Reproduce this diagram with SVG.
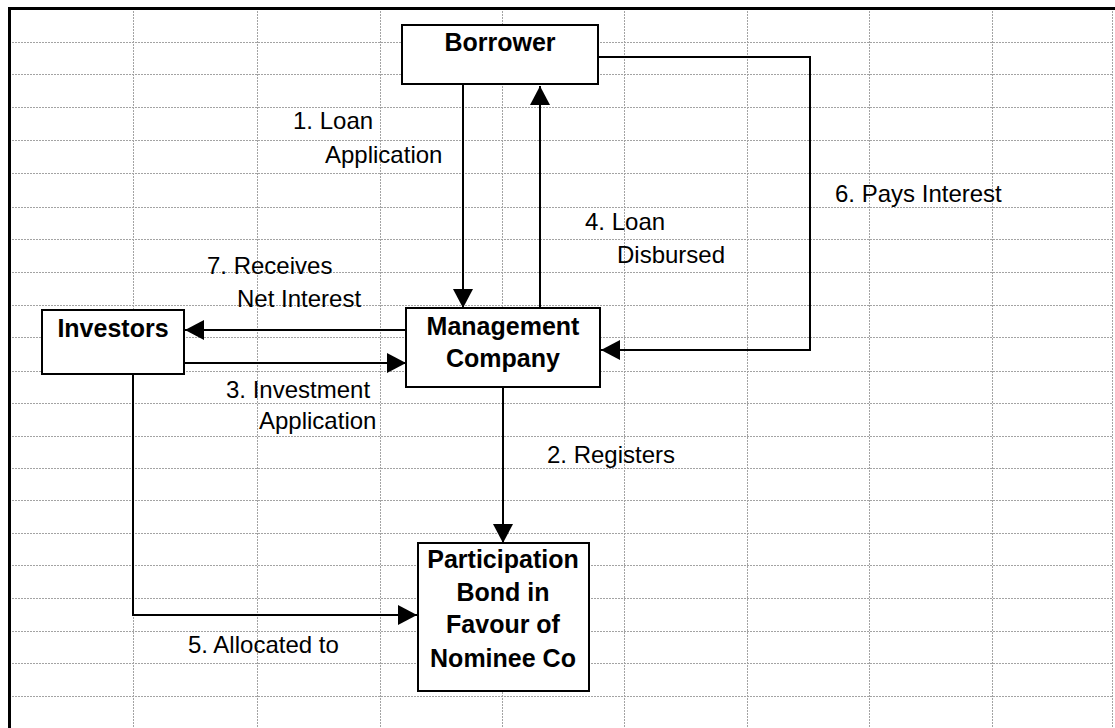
<svg xmlns="http://www.w3.org/2000/svg" width="1115" height="728" viewBox="0 0 1115 728">
  <style>
    .grid line { stroke: #a3a3a3; stroke-width: 1; stroke-dasharray: 2 1; }
    .frame { stroke: #000; stroke-width: 3; fill: none; }
    .box { fill: #fff; stroke: #000; stroke-width: 2; }
    .title { font-family: "Liberation Sans", Arial, sans-serif; font-weight: bold; font-size: 25px; fill: #000; text-anchor: middle; }
    .label { font-family: "Liberation Sans", Arial, sans-serif; font-size: 24px; fill: #000; }
    .conn { fill: none; stroke: #000; stroke-width: 2; }
  </style>
  <defs>
    <marker id="arrow" viewBox="0 0 19 20" refX="19" refY="10" markerWidth="19" markerHeight="20" markerUnits="userSpaceOnUse" orient="auto">
      <path d="M0,0 L19,10 L0,20 z" fill="#000"/>
    </marker>
  </defs>

  <rect width="1115" height="728" fill="#fff"/>

  <!-- spreadsheet grid -->
  <g class="grid">
    <line x1="133.5" y1="8" x2="133.5" y2="728"/>
    <line x1="257.5" y1="8" x2="257.5" y2="728"/>
    <line x1="380.5" y1="8" x2="380.5" y2="728"/>
    <line x1="502.5" y1="8" x2="502.5" y2="728"/>
    <line x1="624.5" y1="8" x2="624.5" y2="728"/>
    <line x1="747.5" y1="8" x2="747.5" y2="728"/>
    <line x1="869.5" y1="8" x2="869.5" y2="728"/>
    <line x1="992.5" y1="8" x2="992.5" y2="728"/>
    <line x1="1112.5" y1="8" x2="1112.5" y2="728"/>
    <line x1="9" y1="42.5" x2="1113" y2="42.5"/>
    <line x1="9" y1="74.5" x2="1113" y2="74.5"/>
    <line x1="9" y1="107.5" x2="1113" y2="107.5"/>
    <line x1="9" y1="140.5" x2="1113" y2="140.5"/>
    <line x1="9" y1="173.5" x2="1113" y2="173.5"/>
    <line x1="9" y1="207.5" x2="1113" y2="207.5"/>
    <line x1="9" y1="239.5" x2="1113" y2="239.5"/>
    <line x1="9" y1="272.5" x2="1113" y2="272.5"/>
    <line x1="9" y1="305.5" x2="1113" y2="305.5"/>
    <line x1="9" y1="337.5" x2="1113" y2="337.5"/>
    <line x1="9" y1="371.5" x2="1113" y2="371.5"/>
    <line x1="9" y1="403.5" x2="1113" y2="403.5"/>
    <line x1="9" y1="436.5" x2="1113" y2="436.5"/>
    <line x1="9" y1="468.5" x2="1113" y2="468.5"/>
    <line x1="9" y1="500.5" x2="1113" y2="500.5"/>
    <line x1="9" y1="533.5" x2="1113" y2="533.5"/>
    <line x1="9" y1="565.5" x2="1113" y2="565.5"/>
    <line x1="9" y1="598.5" x2="1113" y2="598.5"/>
    <line x1="9" y1="631.5" x2="1113" y2="631.5"/>
    <line x1="9" y1="663.5" x2="1113" y2="663.5"/>
    <line x1="9" y1="696.5" x2="1113" y2="696.5"/>
  </g>

  <!-- sheet frame (top and left edges) -->
  <path class="frame" d="M9.5,728 V8.5 H1115"/>

  <!-- labels -->
  <g id="labels">
    <text class="label" x="293" y="129">1. Loan</text>
    <text class="label" x="325" y="163">Application</text>
    <text class="label" x="585" y="230">4. Loan</text>
    <text class="label" x="617" y="263">Disbursed</text>
    <text class="label" x="835" y="202">6. Pays Interest</text>
    <text class="label" x="207" y="274">7. Receives</text>
    <text class="label" x="237" y="307">Net Interest</text>
    <text class="label" x="226" y="398">3. Investment</text>
    <text class="label" x="259" y="429">Application</text>
    <text class="label" x="547" y="463">2. Registers</text>
    <text class="label" x="188" y="653">5. Allocated to</text>
  </g>

  <!-- connectors -->
  <g id="connectors">
    <path class="conn" d="M463,84 V308" marker-end="url(#arrow)"/>
    <path class="conn" d="M540,308 V86" marker-end="url(#arrow)"/>
    <path class="conn" d="M598,57 H810 V350 H601" marker-end="url(#arrow)"/>
    <path class="conn" d="M406,330 H185" marker-end="url(#arrow)"/>
    <path class="conn" d="M184,363 H406" marker-end="url(#arrow)"/>
    <path class="conn" d="M503,387 V543" marker-end="url(#arrow)"/>
    <path class="conn" d="M133,374 V615 H417" marker-end="url(#arrow)"/>
  </g>

  <!-- nodes -->
  <g id="borrower">
    <rect class="box" x="402" y="25" width="196" height="59"/>
    <text class="title" x="500" y="51">Borrower</text>
  </g>
  <g id="management-company">
    <rect class="box" x="406" y="308" width="194" height="79"/>
    <text class="title" x="503" y="335">Management</text>
    <text class="title" x="503" y="367">Company</text>
  </g>
  <g id="investors">
    <rect class="box" x="42" y="310" width="142" height="64"/>
    <text class="title" x="113" y="337">Investors</text>
  </g>
  <g id="participation-bond">
    <rect class="box" x="418" y="543" width="171" height="148"/>
    <text class="title" x="503" y="568">Participation</text>
    <text class="title" x="503" y="601">Bond in</text>
    <text class="title" x="503" y="633">Favour of</text>
    <text class="title" x="503" y="667">Nominee Co</text>
  </g>
</svg>
